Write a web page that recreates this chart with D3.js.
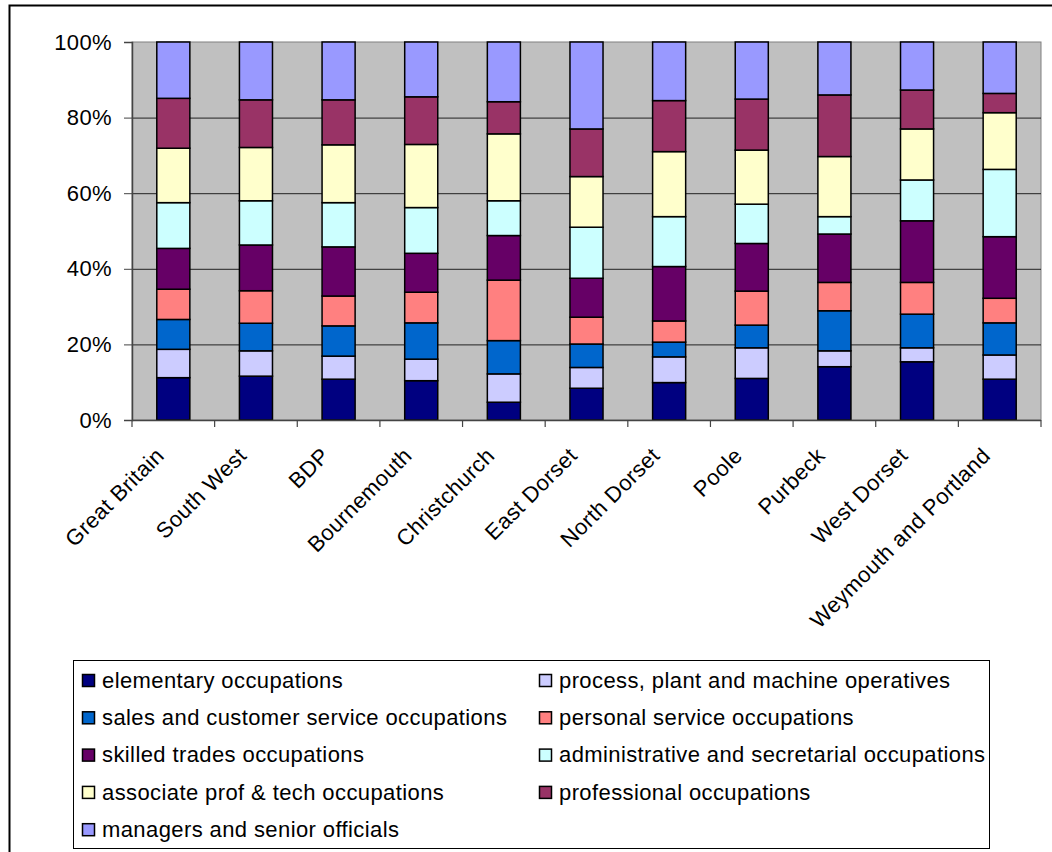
<!DOCTYPE html>
<html><head><meta charset="utf-8">
<script src="https://cdn.jsdelivr.net/npm/d3@7"></script>
<style>
html,body{margin:0;padding:0;background:#fff;}
svg{display:block;}
text{font-family:"Liberation Sans",Arial,sans-serif;fill:#000;}
</style></head>
<body>
<svg id="chart" width="1052" height="852"></svg>
<script>
const categories = ["Great Britain","South West","BDP","Bournemouth","Christchurch","East Dorset","North Dorset","Poole","Purbeck","West Dorset","Weymouth and Portland"];
const seriesNames = ["elementary occupations","process, plant and machine operatives","sales and customer service occupations","personal service occupations","skilled trades occupations","administrative and secretarial occupations","associate prof & tech occupations","professional occupations","managers and senior officials"];
const seriesColors = ["#000080","#CCCCFF","#0066CC","#FF8080","#660066","#CCFFFF","#FFFFCC","#993366","#9999FF"];
// percentages per series, one value per category
const elementary = [11.2,11.6,10.8,10.4,4.7,8.4,9.9,11.0,14.1,15.4,10.8];
const process    = [7.5,6.7,6.1,5.7,7.5,5.5,6.8,8.1,4.2,3.7,6.4];
const sales      = [7.9,7.3,8.0,9.6,8.8,6.2,3.9,6.0,10.6,8.9,8.5];
const personal   = [8.0,8.6,7.9,8.1,16.0,7.1,5.6,9.0,7.5,8.4,6.5];
const skilled    = [10.8,12.1,13.0,10.3,11.8,10.3,14.4,12.6,12.8,16.3,16.3];
const admin      = [12.1,11.7,11.7,12.1,9.2,13.5,13.2,10.4,4.6,10.8,17.8];
const associate  = [14.4,14.1,15.3,16.7,17.7,13.4,17.2,14.3,15.9,13.5,15.0];
const professional = [13.2,12.6,11.9,12.6,8.5,12.6,13.5,13.5,16.3,10.3,5.1];
const managers   = [14.9,15.3,15.3,14.5,15.8,23.0,15.5,15.1,14.0,12.7,13.6];
const yTicks = [0,0.2,0.4,0.6,0.8,1.0];

const seriesValues = [elementary,process,sales,personal,skilled,admin,associate,professional,managers];
const keys = seriesNames;
const rows = categories.map((c,i)=>{
  const r = {category:c};
  let tot = 0;
  seriesValues.forEach(v=>tot+=v[i]);
  keys.forEach((k,j)=>r[k]=seriesValues[j][i]/tot);
  return r;
});
const stacked = d3.stack().keys(keys)(rows);

const svg = d3.select("#chart");
const fontSize = 22, ls = "0.4px";

// outer chart border
svg.append("rect").attr("x",9.5).attr("y",5.5).attr("width",1100).attr("height",900)
  .attr("fill","#fff").attr("stroke","#000").attr("stroke-width",2);

const plot = {left:132, right:1041, top:42, bottom:420};
const x = d3.scaleBand().domain(categories).range([plot.left,plot.right]).paddingInner(0.6).paddingOuter(0.3);
const y = d3.scaleLinear().domain([0,1]).range([plot.bottom,plot.top]);
const color = d3.scaleOrdinal().domain(keys).range(seriesColors);

svg.append("rect").attr("x",plot.left).attr("y",plot.top).attr("width",plot.right-plot.left).attr("height",plot.bottom-plot.top)
  .attr("fill","#C0C0C0").attr("stroke","#808080").attr("stroke-width",1);

// gridlines
svg.append("g").selectAll("line").data(yTicks.filter(t=>t>0&&t<1)).join("line")
  .attr("x1",plot.left).attr("x2",plot.right).attr("y1",d=>y(d)+0.5).attr("y2",d=>y(d)+0.5)
  .attr("stroke","#222").attr("stroke-width",1);

// bars
svg.append("g").selectAll("g").data(stacked).join("g").attr("fill",d=>color(d.key))
  .selectAll("rect").data(d=>d).join("rect")
  .attr("x",d=>x(d.data.category)).attr("width",x.bandwidth())
  .attr("y",d=>y(d[1])).attr("height",d=>y(d[0])-y(d[1]))
  .attr("stroke","#000").attr("stroke-width",1.5);

// y axis
const yAxis = d3.axisLeft(y).tickValues(yTicks).tickFormat(d3.format(".0%")).tickSize(8).tickPadding(12);
const gy = svg.append("g").attr("transform",`translate(${plot.left},0)`).call(yAxis);
gy.select(".domain").attr("stroke","#444").attr("stroke-width",1.5);
gy.selectAll(".tick line").attr("stroke","#444");
gy.selectAll("text").attr("font-size",fontSize).attr("letter-spacing",ls).attr("font-family","Liberation Sans, Arial, sans-serif").attr("fill","#000");

// x axis
const gx = svg.append("g").attr("transform",`translate(0,${plot.bottom})`);
gx.append("line").attr("x1",plot.left).attr("x2",plot.right).attr("y1",0.5).attr("y2",0.5).attr("stroke","#444").attr("stroke-width",1.5);
const step = x.step();
gx.selectAll("line.tk").data(d3.range(categories.length+1)).join("line").attr("class","tk")
  .attr("x1",i=>plot.left+i*step).attr("x2",i=>plot.left+i*step).attr("y1",0).attr("y2",7)
  .attr("stroke","#444").attr("stroke-width",1.2);
svg.append("g").selectAll("text").data(categories).join("text")
  .attr("transform",d=>`translate(${x(d)+x.bandwidth()/2-8},457) rotate(-45)`)
  .attr("text-anchor","end").attr("font-size",fontSize).attr("letter-spacing",ls)
  .text(d=>d);

// legend
const lg = svg.append("g");
lg.append("rect").attr("x",73.5).attr("y",660.5).attr("width",916).attr("height",188)
  .attr("fill","#fff").attr("stroke","#000").attr("stroke-width",1);
const colX = [82,539], rowY0 = 680, rowH = 37.3;
const items = lg.selectAll("g.item").data(keys).join("g").attr("class","item")
  .attr("transform",(d,i)=>`translate(${colX[i%2]},${rowY0+Math.floor(i/2)*rowH})`);
items.append("rect").attr("x",0.5).attr("y",-5.5).attr("width",12).attr("height",12)
  .attr("fill",d=>color(d)).attr("stroke","#000").attr("stroke-width",1.5);
items.append("text").attr("x",20).attr("y",0).attr("dy","0.35em").attr("font-size",fontSize).attr("letter-spacing",ls).text(d=>d);
</script>
</body></html>
